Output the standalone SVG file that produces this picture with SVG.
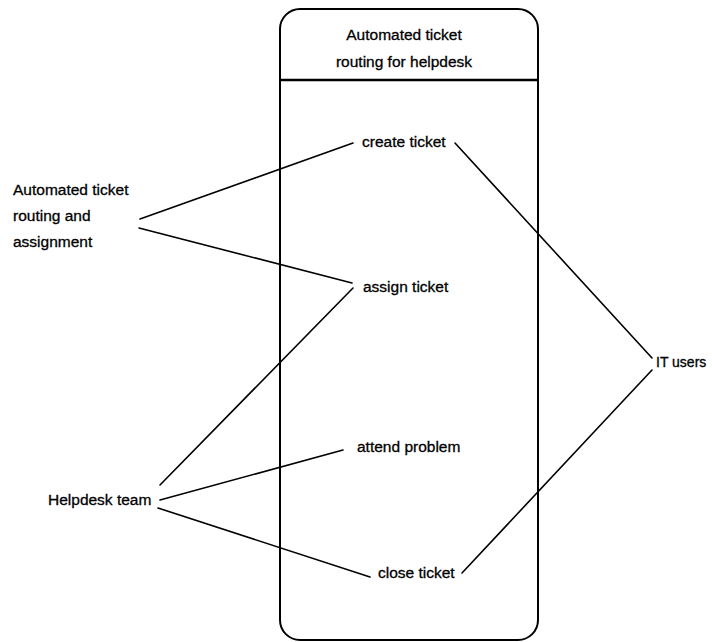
<svg xmlns="http://www.w3.org/2000/svg" width="712" height="642" viewBox="0 0 712 642">
<style>
text{font-family:"Liberation Sans",Arial,sans-serif;font-size:15.5px;fill:#000;stroke:#000;stroke-width:0.3}
.t{text-anchor:middle}
.ln{stroke:#000;stroke-width:1.6;fill:none;stroke-linecap:round}
.box{stroke:#000;stroke-width:2;fill:#fff}
</style>
<rect width="712" height="642" fill="#fff"/>
<g id="system">
<rect class="box" x="280" y="9" width="258" height="631" rx="20" ry="20"/>
<line x1="280" y1="80" x2="538" y2="80" stroke="#000" stroke-width="2.5"/>
<text class="t" x="404" y="40">Automated ticket</text>
<text class="t" x="404" y="67">routing for helpdesk</text>
</g>
<g id="connectors">
<line class="ln" x1="140" y1="219" x2="353" y2="143"/>
<line class="ln" x1="139" y1="228" x2="352" y2="283"/>
<line class="ln" x1="353" y1="288" x2="160" y2="485"/>
<line class="ln" x1="160" y1="500" x2="343" y2="450"/>
<line class="ln" x1="158" y1="508" x2="370" y2="577"/>
<line class="ln" x1="455" y1="143" x2="652" y2="358"/>
<line class="ln" x1="652" y1="370" x2="462" y2="573"/>
</g>
<g id="uc-create"><text x="362" y="147">create ticket</text></g>
<g id="uc-assign"><text x="363" y="292">assign ticket</text></g>
<g id="uc-attend"><text x="357" y="452">attend problem</text></g>
<g id="uc-close"><text x="378" y="578">close ticket</text></g>
<g id="actor-auto">
<text x="13" y="195">Automated ticket</text>
<text x="13" y="221">routing and</text>
<text x="13" y="247">assignment</text>
</g>
<g id="actor-helpdesk"><text x="48" y="505">Helpdesk team</text></g>
<g id="actor-it"><text x="656" y="367" style="font-size:14px">IT users</text></g>
</svg>
